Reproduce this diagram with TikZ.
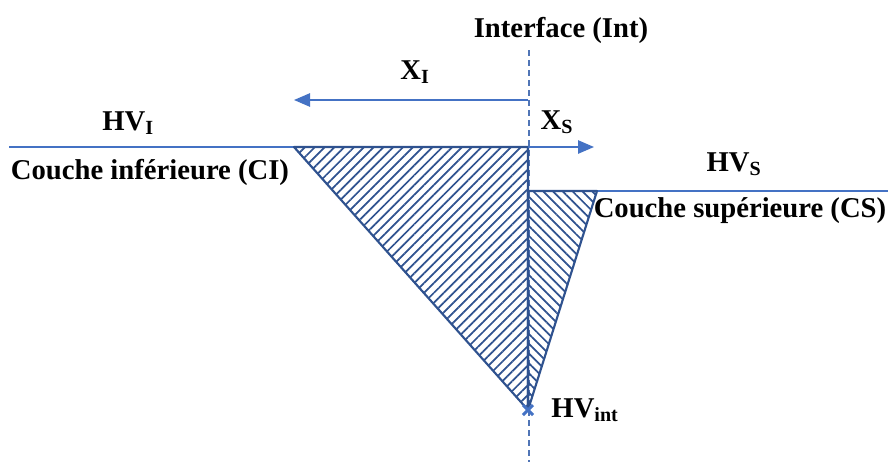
\documentclass[tikz,border=0pt]{standalone}
\usepackage{fontspec}
\setmainfont{Liberation Serif}
\usetikzlibrary{arrows.meta,patterns.meta,calc}
\definecolor{edgeblue}{HTML}{2F528F}
\definecolor{lineblue}{HTML}{4472C4}

\begin{document}
\begin{tikzpicture}[x=0.75pt,y=-0.75pt,
  font=\fontsize{21.5}{24}\selectfont\bfseries,
  lbl/.style={inner sep=0pt},
  layer/.style={draw=lineblue, line width=1.1pt},
  dimarrow/.style={draw=lineblue, line width=1.2pt, -{Triangle[length=12pt,width=10pt]}},
  wedge/.style={draw=edgeblue, line width=1.6pt, line join=round, pattern color=edgeblue},
  axis/.style={draw=lineblue!80!gray, line width=0.8pt, dash pattern=on 4.5pt off 3pt}
]
\useasboundingbox (0,0) rectangle (895,462);
% key points
\coordinate (intTop) at (529,50);
\coordinate (intBot) at (529,462);
\coordinate (hvInt)  at (528,410);
\coordinate (ciEnd)  at (9,147);
\coordinate (ciTip)  at (294,147);
\coordinate (ciTop)  at (528,147);
\coordinate (csTop)  at (528,191);
\coordinate (csTip)  at (597,191);
\coordinate (csEnd)  at (888,191);
\coordinate (xiStart) at (528,100);
\coordinate (xiEnd)   at (294,100);
\coordinate (xsEnd)   at (594,147);
% interface
\draw[axis] (intTop) -- (intBot);
% layers
\draw[layer] (ciEnd) -- (ciTip);
\draw[layer] (csTip) -- (csEnd);
% hatched wedges
\draw[wedge, pattern={Lines[angle=45,distance=5.2pt,line width=1.3pt]}]
  (ciTip) -- (ciTop) -- (hvInt) -- cycle;
\draw[wedge, pattern={Lines[angle=-45,distance=5.2pt,line width=1.3pt]}]
  (csTop) -- (csTip) -- (hvInt) -- cycle;
% distances
\draw[dimarrow] (xiStart) -- (xiEnd);
\draw[dimarrow] (ciTop) -- (xsEnd);
% HV_int mark
\draw[lineblue, line width=2.2pt] ($(hvInt)+(-5,-5)$) -- ($(hvInt)+(5,5)$)
  ($(hvInt)+(-5,5)$) -- ($(hvInt)+(5,-5)$);
% labels
\node[lbl] (intLbl) at (561,30)  {Interface (Int)};
\node[lbl] (xiLbl)  at (415,72)  {X\textsubscript{I}};
\node[lbl] (xsLbl)  at (557,122) {X\textsubscript{S}};
\node[lbl] (hviLbl) at (128,123) {HV\textsubscript{I}};
\node[lbl] (hvsLbl) at (734,164) {HV\textsubscript{S}};
\node[lbl] (ciLbl)  at (150,172) {Couche inférieure (CI)};
\node[lbl] (csLbl)  at (740,211) {Couche supérieure (CS)};
\node[lbl] (hvtLbl) at (585,410) {HV\textsubscript{int}};
\end{tikzpicture}
\end{document}
